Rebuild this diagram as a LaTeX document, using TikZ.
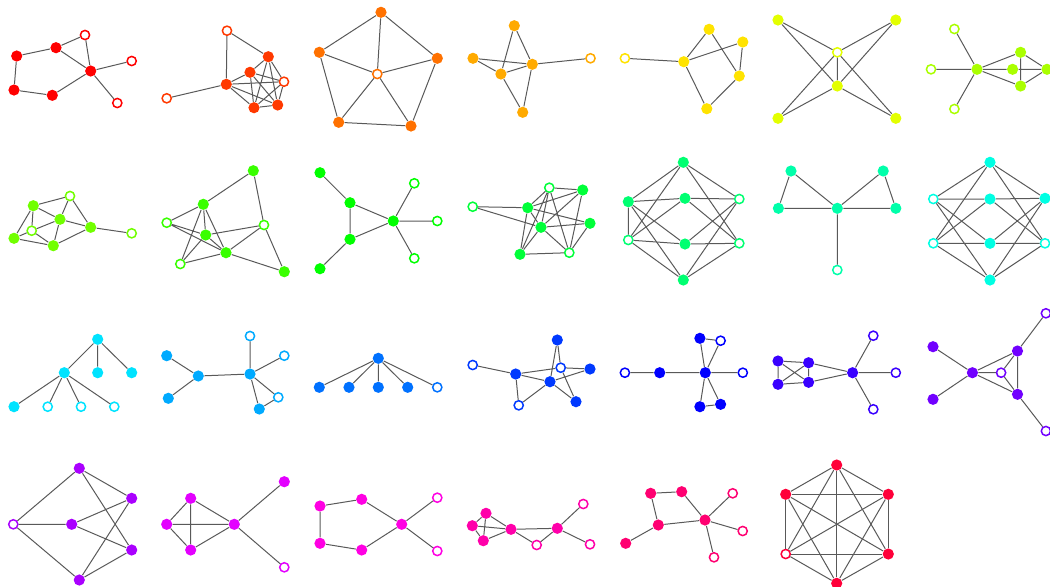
\documentclass[tikz,border=0pt]{standalone}
\tikzset{
    graphhue/.code={\definecolor{gchsb}{Hsb}{#1,1,1}\colorlet{gc}[rgb]{gchsb}},
    full/.style={circle,fill=gc,inner sep=0pt,minimum size=5.6pt},
    hollow/.style={circle,draw=gc,fill=white,line width=0.75pt,inner sep=0pt,minimum size=4.6pt},
    link/.style={draw=black!65,line width=0.5pt}
}
\begin{document}
\begin{tikzpicture}[x=0.5pt,y=-0.5pt]
\useasboundingbox (0,0) rectangle (1050,586);
% row 1
\begin{scope}[graphhue=0,name prefix=g0-]
    \node[full] (a) at (16.7,56) {};
    \node[full] (b) at (56,47.7) {};
    \node[hollow] (c) at (85,35) {};
    \node[full] (d) at (90.7,71) {};
    \node[hollow] (e) at (131.7,61) {};
    \node[hollow] (f) at (117.3,103) {};
    \node[full] (g) at (14,90) {};
    \node[full] (h) at (52.3,95.3) {};
    \draw[link] (a)--(b) (b)--(c) (c)--(d) (b)--(d) (d)--(e) (d)--(f) (a)--(g) (g)--(h) (h)--(d);
\end{scope}
\begin{scope}[graphhue=13.33,name prefix=g1-]
    \node[hollow] (top) at (227,30.7) {};
    \node[hollow] (left) at (166.7,98.3) {};
    \node[full] (hub) at (226.3,84.3) {};
    \node[full] (n1) at (268.3,56.7) {};
    \node[full] (n2) at (250,72.3) {};
    \node[hollow] (n3) at (284,81.7) {};
    \node[full] (n4) at (254,107.7) {};
    \node[full] (n5) at (277.7,105) {};
    \draw[link] (top)--(hub) (top)--(n1) (left)--(hub);
    \foreach \u/\v in {hub/n2,hub/n3,hub/n4,hub/n5,n1/n2,n1/n3,n1/n4,n1/n5,n2/n3,n2/n4,n2/n5,n3/n4,n3/n5,n4/n5}
        \draw[link] (\u)--(\v);
\end{scope}
\begin{scope}[graphhue=26.67,name prefix=g2-]
    \node[full] (top) at (381,12.3) {};
    \node[full] (left) at (319.3,52.3) {};
    \node[full] (right) at (437.3,58.3) {};
    \node[hollow] (mid) at (377.3,74) {};
    \node[full] (bl) at (338.7,122.3) {};
    \node[full] (br) at (411,126) {};
    \draw[link] (top)--(left) (left)--(bl) (bl)--(br) (br)--(right) (right)--(top);
    \draw[link] (mid)--(top) (mid)--(left) (mid)--(right) (mid)--(bl) (mid)--(br);
\end{scope}
\begin{scope}[graphhue=40,name prefix=g3-]
    \node[full] (top) at (514.3,25.7) {};
    \node[full] (left) at (473,58.3) {};
    \node[full] (hub) at (532.3,64.3) {};
    \node[full] (mid) at (500.9,74) {};
    \node[full] (bot) at (522.7,112.3) {};
    \node[hollow] (out) at (590.5,58.3) {};
    \draw[link] (top)--(hub) (top)--(mid) (left)--(hub) (left)--(mid) (mid)--(hub) (mid)--(bot) (hub)--(bot) (hub)--(out);
\end{scope}
\begin{scope}[graphhue=53.33,name prefix=g4-]
    \node[hollow] (out) at (624.9,58.3) {};
    \node[full] (hub) at (683.8,61.7) {};
    \node[full] (top) at (709.1,29.3) {};
    \node[full] (tr) at (742.8,42) {};
    \node[full] (r) at (739.3,76) {};
    \node[full] (bot) at (706.8,108.7) {};
    \draw[link] (out)--(hub) (hub)--(top) (hub)--(tr) (top)--(r) (tr)--(r) (r)--(bot) (bot)--(hub);
\end{scope}
\begin{scope}[graphhue=66.67,name prefix=g5-]
    \node[full] (tl) at (778,20) {};
    \node[full] (tr) at (895.8,20) {};
    \node[hollow] (up) at (837.3,52.3) {};
    \node[full] (dn) at (837.3,86) {};
    \node[full] (bl) at (778,118.3) {};
    \node[full] (br) at (895.8,118.3) {};
    \draw[link] (tl)--(up) (tl)--(dn) (tr)--(up) (tr)--(dn) (bl)--(up) (bl)--(dn) (br)--(up) (br)--(dn) (up)--(dn);
\end{scope}
\begin{scope}[graphhue=80,name prefix=g6-]
    \node[hollow] (top) at (954.4,29) {};
    \node[hollow] (left) at (931,69.3) {};
    \node[hollow] (bot) at (954.4,109) {};
    \node[full] (hub) at (977,69.3) {};
    \node[full] (up) at (1020.6,52.3) {};
    \node[full] (mid) at (1012.6,69.3) {};
    \node[full] (dn) at (1020.6,86) {};
    \node[full] (right) at (1047,69.3) {};
    \draw[link] (hub)--(top) (hub)--(left) (hub)--(bot) (hub)--(up) (hub)--(mid) (hub)--(dn);
    \draw[link] (mid)--(right) (up)--(dn) (up)--(right) (dn)--(right);
\end{scope}
% row 2
\begin{scope}[graphhue=93.33,name prefix=g7-]
    \node[full] (tl) at (33.3,205.7) {};
    \node[hollow] (top) at (70,196) {};
    \node[full] (ctr) at (60,219.3) {};
    \node[hollow] (in) at (31.7,230.7) {};
    \node[full] (left) at (14,238.3) {};
    \node[full] (bot) at (53.3,245.7) {};
    \node[full] (right) at (90.7,227.3) {};
    \node[hollow] (far) at (131.7,233.3) {};
    \draw[link] (tl)--(top) (tl)--(ctr) (tl)--(in) (tl)--(left) (top)--(ctr) (top)--(right) (ctr)--(right) (ctr)--(in) (ctr)--(bot);
    \draw[link] (left)--(in) (in)--(bot) (left)--(bot) (bot)--(right) (right)--(far);
\end{scope}
\begin{scope}[graphhue=106.67,name prefix=g8-]
    \node[full] (top) at (253.3,170.7) {};
    \node[full] (n1) at (203.3,204.3) {};
    \node[hollow] (left) at (166.7,222.7) {};
    \node[full] (n2) at (205.7,235) {};
    \node[hollow] (right) at (264,225) {};
    \node[full] (n3) at (226,252.7) {};
    \node[hollow] (bl) at (180.3,264) {};
    \node[full] (br) at (284.3,271.7) {};
    \draw[link] (top)--(n1) (top)--(right) (n1)--(left) (n1)--(n2) (n1)--(n3) (n1)--(bl) (left)--(n2) (left)--(n3);
    \draw[link] (n2)--(right) (n2)--(n3) (n2)--(bl) (n3)--(bl) (n3)--(right) (n3)--(br) (right)--(br);
\end{scope}
\begin{scope}[graphhue=120,name prefix=g9-]
    \node[full] (tl) at (320,172.7) {};
    \node[full] (n1) at (350,202.7) {};
    \node[full] (n2) at (350,239.3) {};
    \node[full] (bl) at (320,268.7) {};
    \node[full] (hub) at (393.3,221) {};
    \node[hollow] (h1) at (414.3,183.3) {};
    \node[hollow] (h2) at (437.3,221) {};
    \node[hollow] (h3) at (414.3,258.3) {};
    \draw[link] (tl)--(n1) (n1)--(n2) (n2)--(bl) (n1)--(hub) (n2)--(hub) (hub)--(h1) (hub)--(h2) (hub)--(h3);
\end{scope}
\begin{scope}[graphhue=133.33,name prefix=g10-]
    \node[hollow] (far) at (472.7,206.7) {};
    \node[full] (n1) at (527.7,207.7) {};
    \node[hollow] (top) at (549.3,187.7) {};
    \node[full] (tr) at (582.7,190) {};
    \node[full] (ctr) at (541,227.3) {};
    \node[full] (r) at (590,223.3) {};
    \node[full] (bl) at (520,254.3) {};
    \node[hollow] (br) at (569.3,252.7) {};
    \draw[link] (far)--(n1) (far)--(ctr) (top)--(tr) (top)--(n1) (top)--(ctr) (top)--(bl) (top)--(br) (tr)--(n1) (tr)--(ctr);
    \draw[link] (tr)--(br) (n1)--(r) (n1)--(ctr) (n1)--(bl) (ctr)--(r) (ctr)--(bl) (ctr)--(br) (r)--(br) (bl)--(br);
\end{scope}
\begin{scope}[graphhue=146.67,name prefix=g11-]
    \node[full] (top) at (683.3,162.3) {};
    \node[full] (l1) at (628.3,201.7) {};
    \node[full] (m1) at (685,198.3) {};
    \node[hollow] (r1) at (739.3,199) {};
    \node[hollow] (l2) at (628.3,240) {};
    \node[full] (m2) at (685,244) {};
    \node[hollow] (r2) at (739.3,243.3) {};
    \node[full] (bot) at (683.3,280) {};
    \draw[link] (top)--(l1) (top)--(r1) (top)--(l2) (top)--(r2) (bot)--(l1) (bot)--(r1) (bot)--(l2) (bot)--(r2);
    \draw[link] (l1)--(m1) (m1)--(r1) (l2)--(m2) (m2)--(r2) (l1)--(m2) (l2)--(m1) (m1)--(r2) (m2)--(r1) (l1)--(l2);
\end{scope}
\begin{scope}[graphhue=160,name prefix=g12-]
    \node[full] (tl) at (791,171) {};
    \node[full] (l) at (778.4,208.3) {};
    \node[full] (hub) at (837.3,208.3) {};
    \node[full] (tr) at (883.2,171) {};
    \node[full] (r) at (895.8,208.3) {};
    \node[hollow] (bot) at (837.3,270) {};
    \draw[link] (tl)--(l) (tl)--(hub) (l)--(hub) (tr)--(hub) (tr)--(r) (hub)--(r) (hub)--(bot);
\end{scope}
\begin{scope}[graphhue=173.33,name prefix=g13-]
    \node[full] (top) at (990,162.3) {};
    \node[hollow] (l1) at (933.3,199) {};
    \node[full] (m1) at (990,199) {};
    \node[full] (r1) at (1045,198.3) {};
    \node[hollow] (l2) at (933.3,243.3) {};
    \node[full] (m2) at (990,243.3) {};
    \node[hollow] (r2) at (1045,243.3) {};
    \node[full] (bot) at (990,280) {};
    \draw[link] (top)--(l1) (top)--(r1) (top)--(l2) (top)--(r2) (bot)--(l1) (bot)--(r1) (bot)--(l2) (bot)--(r2);
    \draw[link] (l1)--(m1) (m1)--(r1) (l2)--(m2) (m2)--(r2) (l1)--(m2) (l2)--(m1) (m1)--(r2) (m2)--(r1);
\end{scope}
% row 3
\begin{scope}[graphhue=186.67,name prefix=g14-]
    \node[full] (top) at (97.7,339.3) {};
    \node[full] (hub) at (64.3,372.7) {};
    \node[full] (t1) at (97.7,372.7) {};
    \node[full] (t2) at (131.7,372.7) {};
    \node[full] (b1) at (14,406.7) {};
    \node[hollow] (b2) at (47.7,406.7) {};
    \node[hollow] (b3) at (81,406.7) {};
    \node[hollow] (b4) at (114.3,406.7) {};
    \draw[link] (top)--(hub) (top)--(t1) (top)--(t2) (hub)--(b1) (hub)--(b2) (hub)--(b3) (hub)--(b4);
\end{scope}
\begin{scope}[graphhue=200,name prefix=g15-]
    \node[full] (l1) at (166.7,355.7) {};
    \node[full] (l2) at (168.3,398.3) {};
    \node[full] (a) at (198.3,376) {};
    \node[full] (b) at (250,374) {};
    \node[hollow] (top) at (250,336) {};
    \node[hollow] (r) at (284.3,355.7) {};
    \node[hollow] (rb) at (278.3,397.3) {};
    \node[full] (bb) at (259.3,409) {};
    \draw[link] (l1)--(a) (l2)--(a) (a)--(b) (b)--(top) (b)--(r) (b)--(rb) (b)--(bb) (rb)--(bb);
\end{scope}
\begin{scope}[graphhue=213.33,name prefix=g16-]
    \node[full] (hub) at (378.3,358.3) {};
    \node[full] (f1) at (319.3,387.3) {};
    \node[full] (f2) at (349,387.3) {};
    \node[full] (f3) at (378.3,387.3) {};
    \node[full] (f4) at (407.7,387.3) {};
    \node[hollow] (f5) at (437.3,387.3) {};
    \draw[link] (hub)--(f1) (hub)--(f2) (hub)--(f3) (hub)--(f4) (hub)--(f5);
\end{scope}
\begin{scope}[graphhue=226.67,name prefix=g17-]
    \node[hollow] (far) at (472.7,365) {};
    \node[full] (a) at (515.7,374) {};
    \node[full] (top) at (557.3,340) {};
    \node[hollow] (h) at (560.7,367.7) {};
    \node[full] (r) at (590,369) {};
    \node[full] (ctr) at (550,381.7) {};
    \node[hollow] (bh) at (518.7,405.3) {};
    \node[full] (br) at (576,401.7) {};
    \draw[link] (far)--(a) (a)--(h) (a)--(ctr) (a)--(bh) (bh)--(ctr) (top)--(ctr) (top)--(h);
    \draw[link] (h)--(r) (h)--(br) (ctr)--(r) (ctr)--(br);
\end{scope}
\begin{scope}[graphhue=240,name prefix=g18-]
    \node[hollow] (hl) at (624.9,372.7) {};
    \node[full] (a) at (659.7,372.7) {};
    \node[full] (hub) at (705.3,372.7) {};
    \node[hollow] (hr) at (742.8,372.7) {};
    \node[full] (top) at (699.9,338.3) {};
    \node[hollow] (toph) at (720.6,340.7) {};
    \node[full] (bot) at (699.9,406.7) {};
    \node[full] (botr) at (720.6,404.3) {};
    \draw[link] (hl)--(a) (a)--(hub) (hub)--(hr) (top)--(hub) (toph)--(hub) (top)--(toph) (bot)--(hub) (botr)--(hub) (bot)--(botr);
\end{scope}
\begin{scope}[graphhue=253.33,name prefix=g19-]
    \node[full] (a) at (778,361) {};
    \node[full] (b) at (808.6,362.7) {};
    \node[full] (c) at (778,384.3) {};
    \node[full] (d) at (808.6,382.3) {};
    \node[full] (hub) at (852.6,372.7) {};
    \node[hollow] (th) at (873.3,335.7) {};
    \node[hollow] (rh) at (895.8,372.7) {};
    \node[hollow] (bh) at (873.3,409.3) {};
    \draw[link] (a)--(b) (a)--(c) (a)--(d) (b)--(c) (b)--(d) (c)--(d) (b)--(hub) (d)--(hub) (hub)--(th) (hub)--(rh) (hub)--(bh);
\end{scope}
\begin{scope}[graphhue=266.67,name prefix=g20-]
    \node[full] (l1) at (933,346.7) {};
    \node[full] (l2) at (933,399.3) {};
    \node[full] (hub) at (972.4,372.7) {};
    \node[hollow] (mid) at (1001.1,372.7) {};
    \node[full] (up) at (1017.5,351) {};
    \node[full] (dn) at (1017.5,394.3) {};
    \node[hollow] (fu) at (1045.9,313.3) {};
    \node[hollow] (fd) at (1045.9,431) {};
    \draw[link] (l1)--(hub) (l2)--(hub) (hub)--(up) (hub)--(dn) (hub)--(mid) (mid)--(up) (mid)--(dn) (up)--(dn) (up)--(fu) (dn)--(fd);
\end{scope}
% row 4
\begin{scope}[graphhue=280,name prefix=g21-]
    \node[full] (top) at (79.3,468.3) {};
    \node[hollow] (hl) at (13.3,524.3) {};
    \node[full] (mid) at (71.7,524.3) {};
    \node[full] (r1) at (131.7,498.3) {};
    \node[full] (r2) at (131.7,550) {};
    \node[full] (bot) at (79.3,580) {};
    \draw[link] (hl)--(top) (hl)--(mid) (hl)--(bot) (top)--(r1) (top)--(r2) (mid)--(r1) (mid)--(r2) (bot)--(r1) (bot)--(r2);
\end{scope}
\begin{scope}[graphhue=293.33,name prefix=g22-]
    \node[full] (top) at (190.7,498.3) {};
    \node[full] (left) at (166.7,524.3) {};
    \node[full] (bot) at (190.7,550) {};
    \node[full] (hub) at (234.3,524.3) {};
    \node[full] (tr) at (284.3,481.7) {};
    \node[hollow] (br) at (284.3,567.3) {};
    \draw[link] (top)--(left) (top)--(bot) (top)--(hub) (left)--(bot) (left)--(hub) (bot)--(hub) (hub)--(tr) (hub)--(br);
\end{scope}
\begin{scope}[graphhue=306.67,name prefix=g23-]
    \node[full] (l1) at (320,506) {};
    \node[full] (a) at (361.7,499.3) {};
    \node[full] (l2) at (320,543.3) {};
    \node[full] (b) at (361.7,550) {};
    \node[full] (hub) at (401.7,524.3) {};
    \node[hollow] (tr) at (437.3,497.7) {};
    \node[hollow] (br) at (437.3,551) {};
    \draw[link] (l1)--(a) (l1)--(l2) (l2)--(b) (a)--(hub) (b)--(hub) (hub)--(tr) (hub)--(br);
\end{scope}
\begin{scope}[graphhue=320,name prefix=g24-]
    \node[full] (a) at (486,513.3) {};
    \node[full] (b) at (472.3,525.7) {};
    \node[full] (c) at (483.3,540.7) {};
    \node[full] (d) at (511,529.3) {};
    \node[hollow] (h) at (536.7,545) {};
    \node[full] (e) at (557.3,528.3) {};
    \node[hollow] (tr) at (583.3,504) {};
    \node[hollow] (br) at (590,544.3) {};
    \draw[link] (a)--(b) (a)--(c) (b)--(c) (a)--(d) (b)--(d) (c)--(d) (d)--(e) (d)--(h) (h)--(e) (e)--(tr) (e)--(br);
\end{scope}
\begin{scope}[graphhue=333.33,name prefix=g25-]
    \node[full] (tl) at (650.7,493.3) {};
    \node[full] (tm) at (681.7,491.7) {};
    \node[full] (m) at (658.3,525) {};
    \node[full] (bl) at (625.7,543.3) {};
    \node[full] (hub) at (705,520) {};
    \node[hollow] (h1) at (732.7,493.3) {};
    \node[hollow] (h2) at (742.7,531) {};
    \node[hollow] (h3) at (714,557.3) {};
    \draw[link] (tl)--(tm) (tl)--(m) (m)--(bl) (m)--(hub) (tm)--(hub) (hub)--(h1) (hub)--(h2) (hub)--(h3);
\end{scope}
\begin{scope}[graphhue=346.67,name prefix=g26-]
    \node[full] (t) at (836.7,465) {};
    \node[full] (ur) at (888.3,494.3) {};
    \node[full] (lr) at (888.3,554) {};
    \node[full] (b) at (836.7,583.3) {};
    \node[hollow] (ll) at (785.7,554) {};
    \node[full] (ul) at (785.7,494.3) {};
    \foreach \u [count=\i] in {t,ur,lr,b,ll,ul}
        \foreach \v [count=\j] in {t,ur,lr,b,ll,ul}
            {\ifnum\i<\j \draw[link] (\u)--(\v); \fi}
\end{scope}
\end{tikzpicture}
\end{document}
